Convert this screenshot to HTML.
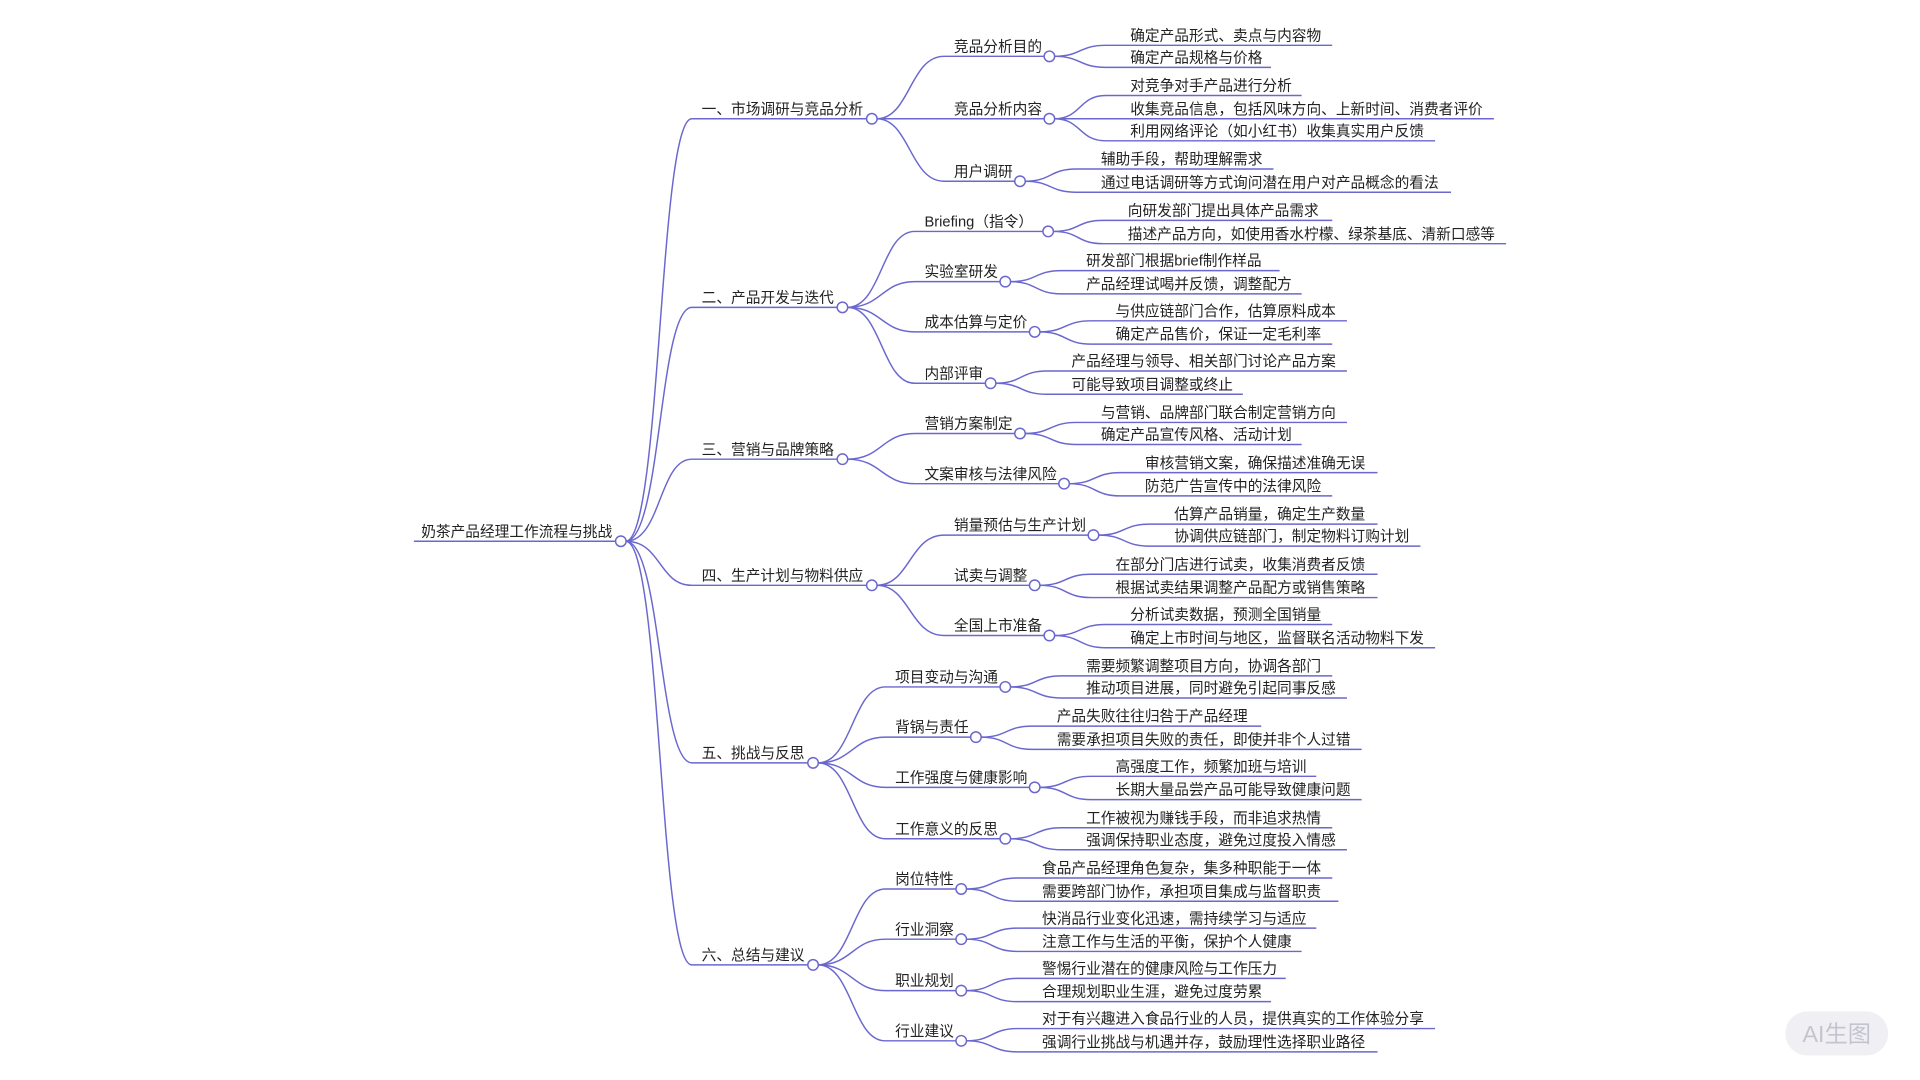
<!DOCTYPE html>
<html><head><meta charset="utf-8"><style>
html,body{margin:0;padding:0;background:#fff;width:1920px;height:1080px;overflow:hidden}
svg{display:block}
text{font-family:"Liberation Sans","Noto Sans CJK SC",sans-serif;font-size:12px;fill:#222}
path{fill:none;stroke:#6a67cf;stroke-width:1.2}
circle{fill:#fff;stroke:#6a67cf;stroke-width:1.2}
</style></head><body>
<svg width="1920" height="1080" viewBox="0 0 1568 882" xmlns="http://www.w3.org/2000/svg">
<!-- root -->
<path d="M338 442 H503"/>
<text x="344" y="438">奶茶产品经理工作流程与挑战</text>
<!-- level1 -->
<path d="M511 442 C540 442 538 97 565 97 H708"/>
<path d="M511 442 C540 442 538 251 565 251 H684"/>
<path d="M511 442 C540 442 538 375 565 375 H684"/>
<path d="M511 442 C540 442 538 478 565 478 H708"/>
<path d="M511 442 C540 442 538 623 565 623 H660"/>
<path d="M511 442 C540 442 538 788 565 788 H660"/>
<text x="573" y="93">一、市场调研与竞品分析</text>
<text x="573" y="247">二、产品开发与迭代</text>
<text x="573" y="371">三、营销与品牌策略</text>
<text x="573" y="474">四、生产计划与物料供应</text>
<text x="573" y="619">五、挑战与反思</text>
<text x="573" y="784">六、总结与建议</text>
<!-- level2 group1 -->
<path d="M716 97 C743 97 743 46 771 46 H853"/>
<path d="M716 97 H853"/>
<path d="M716 97 C743 97 743 148 771 148 H829"/>
<text x="779" y="42">竞品分析目的</text>
<text x="779" y="93">竞品分析内容</text>
<text x="779" y="144">用户调研</text>
<!-- group2 -->
<path d="M692 251 C720 251 720 189 747 189 H852"/>
<path d="M692 251 C720 251 720 230 747 230 H817"/>
<path d="M692 251 C720 251 720 271 747 271 H841"/>
<path d="M692 251 C720 251 720 313 747 313 H805"/>
<text x="755" y="185">Briefing（指令）</text>
<text x="755" y="226">实验室研发</text>
<text x="755" y="267">成本估算与定价</text>
<text x="755" y="309">内部评审</text>
<!-- group3 -->
<path d="M692 375 C720 375 720 354 747 354 H829"/>
<path d="M692 375 C720 375 720 395 747 395 H865"/>
<text x="755" y="350">营销方案制定</text>
<text x="755" y="391">文案审核与法律风险</text>
<!-- group4 -->
<path d="M716 478 C743 478 743 437 771 437 H889"/>
<path d="M716 478 H841"/>
<path d="M716 478 C743 478 743 519 771 519 H853"/>
<text x="779" y="433">销量预估与生产计划</text>
<text x="779" y="474">试卖与调整</text>
<text x="779" y="515">全国上市准备</text>
<!-- group5 -->
<path d="M668 623 C696 623 696 561 723 561 H817"/>
<path d="M668 623 C696 623 696 602 723 602 H793"/>
<path d="M668 623 C696 623 696 643 723 643 H841"/>
<path d="M668 623 C696 623 696 685 723 685 H817"/>
<text x="731" y="557">项目变动与沟通</text>
<text x="731" y="598">背锅与责任</text>
<text x="731" y="639">工作强度与健康影响</text>
<text x="731" y="681">工作意义的反思</text>
<!-- group6 -->
<path d="M668 788 C696 788 696 726 723 726 H781"/>
<path d="M668 788 C696 788 696 767 723 767 H781"/>
<path d="M668 788 C696 788 696 809 723 809 H781"/>
<path d="M668 788 C696 788 696 850 723 850 H781"/>
<text x="731" y="722">岗位特性</text>
<text x="731" y="763">行业洞察</text>
<text x="731" y="805">职业规划</text>
<text x="731" y="846">行业建议</text>
<!-- leaves -->
<path d="M861 46 C883 46 881 37 903 37 H1088"/><path d="M861 46 C883 46 881 55 903 55 H1038"/>
<text x="923" y="33">确定产品形式、卖点与内容物</text><text x="923" y="51">确定产品规格与价格</text>
<path d="M861 97 C883 97 881 78 903 78 H1063"/><path d="M861 97 H1220"/><path d="M861 97 C883 97 881 115 903 115 H1172"/>
<text x="923" y="74">对竞争对手产品进行分析</text><text x="923" y="93">收集竞品信息，包括风味方向、上新时间、消费者评价</text><text x="923" y="111">利用网络评论（如小红书）收集真实用户反馈</text>
<path d="M837 148 C859 148 857 138 879 138 H1040"/><path d="M837 148 C859 148 857 157 879 157 H1185"/>
<text x="899" y="134">辅助手段，帮助理解需求</text><text x="899" y="153">通过电话调研等方式询问潜在用户对产品概念的看法</text>
<path d="M860 189 C882 189 879 180 901 180 H1088"/><path d="M860 189 C882 189 879 199 901 199 H1230"/>
<text x="921" y="176">向研发部门提出具体产品需求</text><text x="921" y="195">描述产品方向，如使用香水柠檬、绿茶基底、清新口感等</text>
<path d="M825 230 C847 230 845 221 867 221 H1045"/><path d="M825 230 C847 230 845 240 867 240 H1063"/>
<text x="887" y="217">研发部门根据brief制作样品</text><text x="887" y="236">产品经理试喝并反馈，调整配方</text>
<path d="M849 271 C871 271 869 262 891 262 H1100"/><path d="M849 271 C871 271 869 281 891 281 H1088"/>
<text x="911" y="258">与供应链部门合作，估算原料成本</text><text x="911" y="277">确定产品售价，保证一定毛利率</text>
<path d="M813 313 C835 313 833 303 855 303 H1100"/><path d="M813 313 C835 313 833 322 855 322 H1015"/>
<text x="875" y="299">产品经理与领导、相关部门讨论产品方案</text><text x="875" y="318">可能导致项目调整或终止</text>
<path d="M837 354 C859 354 857 345 879 345 H1100"/><path d="M837 354 C859 354 857 363 879 363 H1063"/>
<text x="899" y="341">与营销、品牌部门联合制定营销方向</text><text x="899" y="359">确定产品宣传风格、活动计划</text>
<path d="M873 395 C895 395 893 386 915 386 H1125"/><path d="M873 395 C895 395 893 405 915 405 H1088"/>
<text x="935" y="382">审核营销文案，确保描述准确无误</text><text x="935" y="401">防范广告宣传中的法律风险</text>
<path d="M897 437 C919 437 917 428 939 428 H1125"/><path d="M897 437 C919 437 917 446 939 446 H1160"/>
<text x="959" y="424">估算产品销量，确定生产数量</text><text x="959" y="442">协调供应链部门，制定物料订购计划</text>
<path d="M849 478 C871 478 869 469 891 469 H1125"/><path d="M849 478 C871 478 869 488 891 488 H1125"/>
<text x="911" y="465">在部分门店进行试卖，收集消费者反馈</text><text x="911" y="484">根据试卖结果调整产品配方或销售策略</text>
<path d="M861 519 C883 519 881 510 903 510 H1088"/><path d="M861 519 C883 519 881 529 903 529 H1172"/>
<text x="923" y="506">分析试卖数据，预测全国销量</text><text x="923" y="525">确定上市时间与地区，监督联名活动物料下发</text>
<path d="M825 561 C847 561 845 552 867 552 H1088"/><path d="M825 561 C847 561 845 570 867 570 H1100"/>
<text x="887" y="548">需要频繁调整项目方向，协调各部门</text><text x="887" y="566">推动项目进展，同时避免引起同事反感</text>
<path d="M801 602 C823 602 821 593 843 593 H1030"/><path d="M801 602 C823 602 821 612 843 612 H1112"/>
<text x="863" y="589">产品失败往往归咎于产品经理</text><text x="863" y="608">需要承担项目失败的责任，即使并非个人过错</text>
<path d="M849 643 C871 643 869 634 891 634 H1075"/><path d="M849 643 C871 643 869 653 891 653 H1112"/>
<text x="911" y="630">高强度工作，频繁加班与培训</text><text x="911" y="649">长期大量品尝产品可能导致健康问题</text>
<path d="M825 685 C847 685 845 676 867 676 H1088"/><path d="M825 685 C847 685 845 694 867 694 H1100"/>
<text x="887" y="672">工作被视为赚钱手段，而非追求热情</text><text x="887" y="690">强调保持职业态度，避免过度投入情感</text>
<path d="M789 726 C811 726 809 717 831 717 H1088"/><path d="M789 726 C811 726 809 736 831 736 H1093"/>
<text x="851" y="713">食品产品经理角色复杂，集多种职能于一体</text><text x="851" y="732">需要跨部门协作，承担项目集成与监督职责</text>
<path d="M789 767 C811 767 809 758 831 758 H1075"/><path d="M789 767 C811 767 809 777 831 777 H1063"/>
<text x="851" y="754">快消品行业变化迅速，需持续学习与适应</text><text x="851" y="773">注意工作与生活的平衡，保护个人健康</text>
<path d="M789 809 C811 809 809 799 831 799 H1050"/><path d="M789 809 C811 809 809 818 831 818 H1038"/>
<text x="851" y="795">警惕行业潜在的健康风险与工作压力</text><text x="851" y="814">合理规划职业生涯，避免过度劳累</text>
<path d="M789 850 C811 850 809 840 831 840 H1172"/><path d="M789 850 C811 850 809 859 831 859 H1125"/>
<text x="851" y="836">对于有兴趣进入食品行业的人员，提供真实的工作体验分享</text><text x="851" y="855">强调行业挑战与机遇并存，鼓励理性选择职业路径</text>
<!-- circles -->
<circle cx="507" cy="442" r="4.3"/>
<circle cx="712" cy="97" r="4.3"/><circle cx="688" cy="251" r="4.3"/><circle cx="688" cy="375" r="4.3"/>
<circle cx="712" cy="478" r="4.3"/><circle cx="664" cy="623" r="4.3"/><circle cx="664" cy="788" r="4.3"/>
<circle cx="857" cy="46" r="4.3"/><circle cx="857" cy="97" r="4.3"/><circle cx="833" cy="148" r="4.3"/>
<circle cx="856" cy="189" r="4.3"/><circle cx="821" cy="230" r="4.3"/><circle cx="845" cy="271" r="4.3"/><circle cx="809" cy="313" r="4.3"/>
<circle cx="833" cy="354" r="4.3"/><circle cx="869" cy="395" r="4.3"/>
<circle cx="893" cy="437" r="4.3"/><circle cx="845" cy="478" r="4.3"/><circle cx="857" cy="519" r="4.3"/>
<circle cx="821" cy="561" r="4.3"/><circle cx="797" cy="602" r="4.3"/><circle cx="845" cy="643" r="4.3"/><circle cx="821" cy="685" r="4.3"/>
<circle cx="785" cy="726" r="4.3"/><circle cx="785" cy="767" r="4.3"/><circle cx="785" cy="809" r="4.3"/><circle cx="785" cy="850" r="4.3"/>
<!-- watermark -->
<rect x="1458" y="826" width="84" height="36" rx="18" fill="#f0f0f4"/>
<text x="1500" y="851" text-anchor="middle" style="font-size:19px;fill:#c4c4d0">AI生图</text>
</svg>
</body></html>
